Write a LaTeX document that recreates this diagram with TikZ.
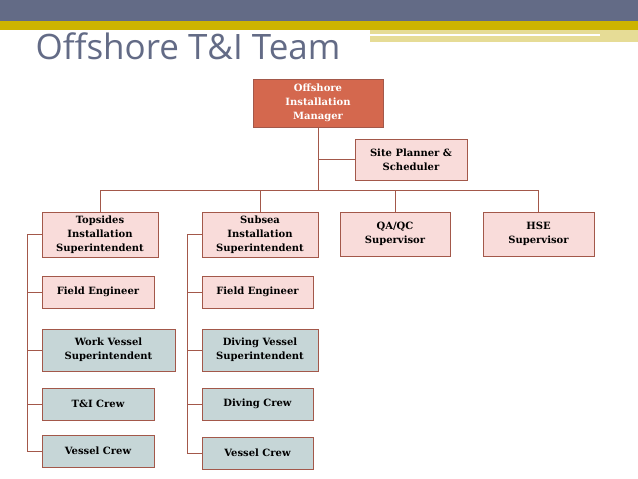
\documentclass[tikz,border=0pt]{standalone}
\usepackage{fontspec}
\setmainfont{DejaVu Serif}
\newfontfamily\titlefont{Open Sans}
\usetikzlibrary{positioning}
\definecolor{slate}{HTML}{636B86}
\definecolor{gold}{HTML}{CDB400}
\definecolor{paleGold}{HTML}{E6DC96}
\definecolor{mgrFill}{HTML}{D4684E}
\definecolor{pinkFill}{HTML}{F9DCDA}
\definecolor{tealFill}{HTML}{C6D6D7}
\definecolor{edgeCol}{HTML}{A3584A}
\tikzset{
  box/.style={draw=edgeCol, thick, align=center, inner sep=1pt,
    font=\fontsize{10}{14}\selectfont\bfseries},
  pinkbox/.style={box, fill=pinkFill},
  tealbox/.style={box, fill=tealFill},
  link/.style={draw=edgeCol, line width=0.6pt}
}
\begin{document}
\begin{tikzpicture}[x=1pt,y=-1pt]
\useasboundingbox (0,0) rectangle (638,479);
% header bands
\fill[slate] (0,0) rectangle (638,21);
\fill[gold] (0,21) rectangle (638,30);
\fill[paleGold] (370,30) rectangle (638,42);
\fill[white] (370,34) rectangle (600,36);
\node[anchor=west, text=slate, font=\titlefont\fontsize{35}{38}\selectfont] (title) at (32,46) {Offshore T\&I Team};

% top level
\node[box, fill=mgrFill, text=white, minimum width=130, minimum height=48] (mgr) at (318,103) {Offshore\\Installation\\Manager};
\node[pinkbox, minimum width=112, minimum height=41] (plan) at (411,159.5) {Site Planner \&\\Scheduler};

% second row
\node[pinkbox, minimum width=116, minimum height=45] (tops) at (100,234.5) {Topsides\\Installation\\Superintendent};
\node[pinkbox, minimum width=116, minimum height=45] (subs) at (260,234.5) {Subsea\\Installation\\Superintendent};
\node[pinkbox, minimum width=110, minimum height=44] (qaqc) at (395,234) {QA/QC\\Supervisor};
\node[pinkbox, minimum width=111, minimum height=44] (hse) at (538.5,234) {HSE\\Supervisor};

% topsides column
\node[pinkbox, minimum width=112, minimum height=32] (tfe) at (98,292) {Field Engineer};
\node[tealbox, minimum width=133, minimum height=42] (wvs) at (108.5,350) {Work Vessel\\Superintendent};
\node[tealbox, minimum width=112, minimum height=32] (tic) at (98,404) {T\&I Crew};
\node[tealbox, minimum width=112, minimum height=32] (tvc) at (98,451) {Vessel Crew};

% subsea column
\node[pinkbox, minimum width=111, minimum height=32] (sfe) at (257.5,292) {Field Engineer};
\node[tealbox, minimum width=116, minimum height=42] (dvs) at (260,350) {Diving Vessel\\Superintendent};
\node[tealbox, minimum width=111, minimum height=32] (dvc) at (257.5,404) {Diving Crew};
\node[tealbox, minimum width=111, minimum height=32] (svc) at (257.5,453) {Vessel Crew};

% connectors
\coordinate (bus) at (318,190);
\draw[link] (mgr.south) -- (bus);
\draw[link] (mgr.south |- plan.west) -- (plan.west);
\draw[link] (tops.north |- bus) -- (hse.north |- bus);
\foreach \n in {tops,subs,qaqc,hse}
  \draw[link] (\n.north |- bus) -- (\n.north);
\foreach \n in {tops,tfe,wvs,tic,tvc}
  \draw[link] (27,0 |- \n.west) -- (\n.west);
\draw[link] (27,0 |- tops.west) -- (27,0 |- tvc.west);
\foreach \n in {subs,sfe,dvs,dvc,svc}
  \draw[link] (187,0 |- \n.west) -- (\n.west);
\draw[link] (187,0 |- subs.west) -- (187,0 |- svc.west);
\end{tikzpicture}
\end{document}
